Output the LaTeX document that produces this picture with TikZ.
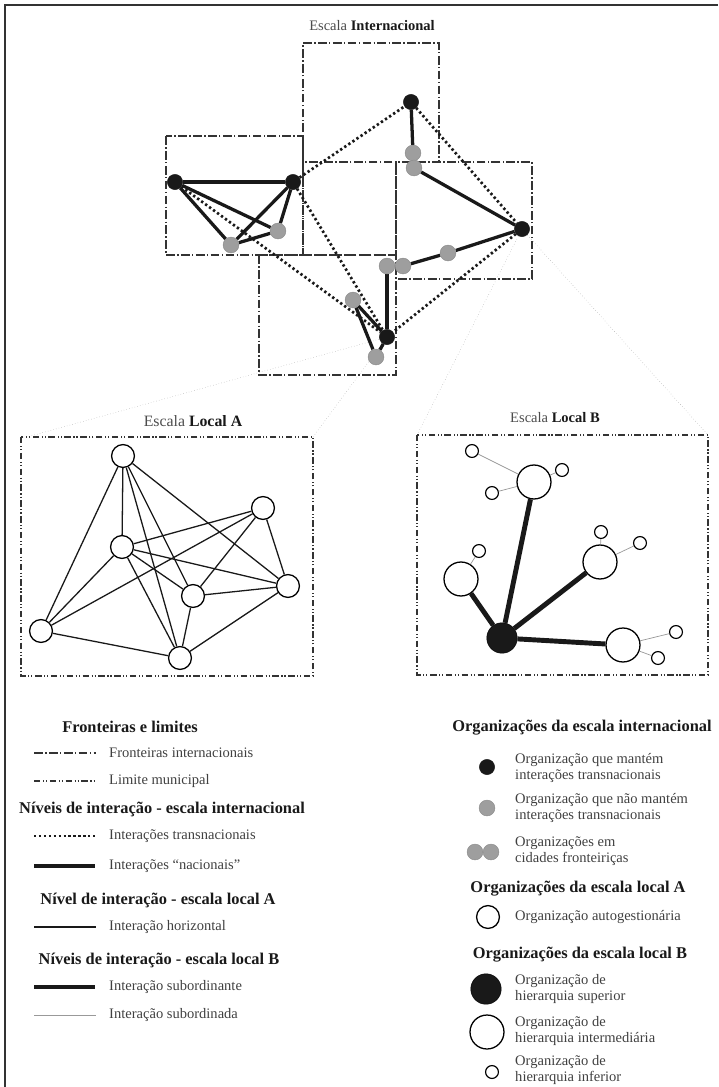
\documentclass[tikz,border=0pt]{standalone}
\usepackage{fontspec}
\setmainfont{Liberation Serif}
\usetikzlibrary{positioning,backgrounds}

\tikzset{
  org/.style={circle, inner sep=0pt, draw},
  blackorg/.style={org, fill=black!90, draw=black!90, minimum size=13pt},
  grayorg/.style={org, fill=black!38, draw=black!45, line width=0.4pt, minimum size=13.5pt},
  autoorg/.style={org, fill=white, line width=1.1pt, minimum size=19.5pt},
  suporg/.style={org, fill=black!90, minimum size=26pt},
  midorg/.style={org, fill=white, line width=1.1pt, minimum size=29pt},
  inforg/.style={org, fill=white, line width=1pt, minimum size=11pt},
  natline/.style={line width=2.8pt, black!90},
  transline/.style={line width=2.3pt, black!90, dash pattern=on 2pt off 2.2pt},
  horizline/.style={line width=1.1pt, black!90},
  subline/.style={line width=4.2pt, black!90},
  subdline/.style={line width=0.6pt, black!40},
  frontier/.style={line width=1.3pt, black!80, dash pattern=on 7.5pt off 2pt on 1.2pt off 2pt},
  municipal/.style={line width=1.3pt, black!80, dash pattern=on 5.5pt off 2.2pt on 1pt off 1.6pt on 1pt off 2.2pt},
  zoomline/.style={line width=0.4pt, black!35, dotted},
  heading/.style={font=\fontsize{14}{16}\selectfont\bfseries, text=black!90, inner sep=0pt},
  legtext/.style={anchor=west, text=black!75, inner sep=0pt, align=left},
  title/.style={text=black!70, inner sep=0pt}
}

\begin{document}
\begin{tikzpicture}[x=0.03cm, y=-0.03cm, font=\fontsize{12.4}{14}\selectfont]
\useasboundingbox (0,0) rectangle (718,1087);
\draw [line width=1.2pt, black!80] (5,1087) -- (5,5) -- (718,5);

% escala internacional
\node [title] (tint) at (372,26) {Escala {\color{black!90}\bfseries Internacional}};
\node [blackorg] (w1) at (175,182) {};
\node [blackorg] (w2) at (293,182) {};
\node [grayorg] (wg1) at (231,245) {};
\node [grayorg] (wg2) at (278,231) {};
\node [blackorg] (n1) at (411,102) {};
\node [grayorg] (ng1) at (413,153) {};
\node [grayorg] (eg1) at (414,168) {};
\node [blackorg] (e1) at (522,229) {};
\node [grayorg] (eg2) at (448,253) {};
\node [grayorg] (eg3) at (403,266) {};
\node [grayorg] (sg1) at (387,266) {};
\node [grayorg] (sg2) at (353,300) {};
\node [blackorg] (s1) at (387,337) {};
\node [grayorg] (sg3) at (376,357) {};

\coordinate (la1) at (27,437);
\coordinate (la2) at (313,437);
\coordinate (lb1) at (417,435);
\coordinate (lb2) at (708,435);

\begin{scope}[on background layer]
\draw [zoomline] (s1.center) -- (la1);
\draw [zoomline] (s1.center) -- (la2);
\draw [zoomline] (e1.center) -- (lb1);
\draw [zoomline] (e1.center) -- (lb2);

\draw [frontier] (303,162) -- (303,43) -- (439,43) -- (439,162);
\draw [frontier] (166,136) rectangle (303,255);
\draw [frontier] (303,162) rectangle (396,255);
\draw [frontier] (396,162) rectangle (532,279);
\draw [frontier] (259,255) rectangle (396,375);

\draw [natline] (w1) -- (w2);
\draw [natline] (w1) -- (wg1);
\draw [natline] (w1) -- (wg2);
\draw [natline] (w2) -- (wg1);
\draw [natline] (w2) -- (wg2);
\draw [natline] (wg1) -- (wg2);
\draw [natline] (n1) -- (ng1);
\draw [natline] (eg1) -- (e1);
\draw [natline] (e1) -- (eg2);
\draw [natline] (eg2) -- (eg3);
\draw [natline] (sg1) -- (s1);
\draw [natline] (sg2) -- (s1);
\draw [natline] (sg2) -- (sg3);
\draw [natline] (s1) -- (sg3);

\draw [transline] (w2) -- (n1);
\draw [transline] (n1) -- (e1);
\draw [transline] (w1) -- (s1);
\draw [transline] (w2) -- (s1);
\draw [transline] (e1) -- (s1);
\end{scope}

% escala local A
\node [title, font=\fontsize{13.5}{15}\selectfont] (tla) at (193,421) {Escala {\color{black!90}\bfseries Local A}};
\draw [municipal] (21,437) rectangle (313,676);
\node [autoorg] (a1) at (123,456) {};
\node [autoorg] (a2) at (263,508) {};
\node [autoorg] (a3) at (122,547) {};
\node [autoorg] (a4) at (193,596) {};
\node [autoorg] (a5) at (288,586) {};
\node [autoorg] (a6) at (41,631) {};
\node [autoorg] (a7) at (180,658) {};
\draw [horizline] (a1) -- (a6);
\draw [horizline] (a1) -- (a3);
\draw [horizline] (a1) -- (a7);
\draw [horizline] (a1) -- (a4);
\draw [horizline] (a1) -- (a5);
\draw [horizline] (a2) -- (a3);
\draw [horizline] (a2) -- (a6);
\draw [horizline] (a2) -- (a4);
\draw [horizline] (a2) -- (a5);
\draw [horizline] (a3) -- (a6);
\draw [horizline] (a3) -- (a4);
\draw [horizline] (a3) -- (a5);
\draw [horizline] (a3) -- (a7);
\draw [horizline] (a4) -- (a5);
\draw [horizline] (a4) -- (a7);
\draw [horizline] (a5) -- (a7);
\draw [horizline] (a6) -- (a7);

% escala local B
\node [title] (tlb) at (555,418) {Escala {\color{black!90}\bfseries Local B}};
\draw [municipal] (417,435) rectangle (708,675);
\node [suporg] (b0) at (502,638) {};
\node [midorg] (b1) at (534,482) {};
\node [midorg] (b2) at (600,562) {};
\node [midorg] (b3) at (461,579) {};
\node [midorg] (b4) at (623,645) {};
\node [inforg] (b11) at (472,451) {};
\node [inforg] (b12) at (492,493) {};
\node [inforg] (b13) at (562,470) {};
\node [inforg] (b21) at (601,532) {};
\node [inforg] (b22) at (640,543) {};
\node [inforg] (b31) at (479,551) {};
\node [inforg] (b41) at (676,632) {};
\node [inforg] (b42) at (658,658) {};
\draw [subline] (b0) -- (b1);
\draw [subline] (b0) -- (b2);
\draw [subline] (b0) -- (b3);
\draw [subline] (b0) -- (b4);
\draw [subdline] (b1) -- (b11);
\draw [subdline] (b1) -- (b12);
\draw [subdline] (b1) -- (b13);
\draw [subdline] (b2) -- (b21);
\draw [subdline] (b2) -- (b22);
\draw [subdline] (b3) -- (b31);
\draw [subdline] (b4) -- (b41);
\draw [subdline] (b4) -- (b42);

% legenda, linhas
\node [heading] (h1) at (130,727) {Fronteiras e limites};
\coordinate (k1a) at (34,753); \coordinate (k1b) at (96,753);
\draw [frontier] (k1a) -- (k1b);
\node [legtext] (t1) at (109,753) {Fronteiras internacionais};
\coordinate (k2a) at (34,781); \coordinate (k2b) at (96,781);
\draw [municipal] (k2a) -- (k2b);
\node [legtext] (t2) at (109,781) {Limite municipal};
\node [heading] (h2) at (162,809) {Níveis de interação - escala internacional};
\coordinate (k3a) at (34,836); \coordinate (k3b) at (96,836);
\draw [transline] (k3a) -- (k3b);
\node [legtext] (t3) at (109,836) {Interações transnacionais};
\coordinate (k4a) at (34,866); \coordinate (k4b) at (95,866);
\draw [natline] (k4a) -- (k4b);
\node [legtext] (t4) at (109,866) {Interações “nacionais”};
\node [heading] (h3) at (158,900) {Nível de interação - escala local A};
\coordinate (k5a) at (34,927); \coordinate (k5b) at (96,927);
\draw [horizline] (k5a) -- (k5b);
\node [legtext] (t5) at (109,927) {Interação horizontal};
\node [heading] (h4) at (159,960) {Níveis de interação - escala local B};
\coordinate (k6a) at (34,987); \coordinate (k6b) at (95,987);
\draw [subline] (k6a) -- (k6b);
\node [legtext] (t6) at (109,987) {Interação subordinante};
\coordinate (k7a) at (34,1015); \coordinate (k7b) at (96,1015);
\draw [subdline] (k7a) -- (k7b);
\node [legtext] (t7) at (109,1015) {Interação subordinada};

% legenda, organizacoes
\node [heading] (h5) at (582,728) {Organizações da escala internacional};
\node [blackorg] (o1) at (487,767) {};
\node [legtext] (u1) at (515,768) {Organização que mantém\\interações transnacionais};
\node [grayorg] (o2) at (487,808) {};
\node [legtext] (u2) at (515,808) {Organização que não mantém\\interações transnacionais};
\node [grayorg] (o3) at (475,852) {};
\node [grayorg] (o4) at (491,852) {};
\node [legtext] (u3) at (515,851) {Organizações em\\cidades fronteiriças};
\node [heading] (h6) at (578,889) {Organizações da escala local A};
\node [autoorg] (o5) at (488,917) {};
\node [legtext] (u4) at (515,917) {Organização autogestionária};
\node [heading] (h7) at (580,955) {Organizações da escala local B};
\node [suporg] (o6) at (486,989) {};
\node [legtext] (u5) at (515,989) {Organização de\\hierarquia superior};
\node [midorg] (o7) at (487,1032) {};
\node [legtext] (u6) at (515,1031) {Organização de\\hierarquia intermediária};
\node [inforg] (o8) at (492,1072) {};
\node [legtext] (u7) at (515,1070) {Organização de\\hierarquia inferior};
\end{tikzpicture}
\end{document}
